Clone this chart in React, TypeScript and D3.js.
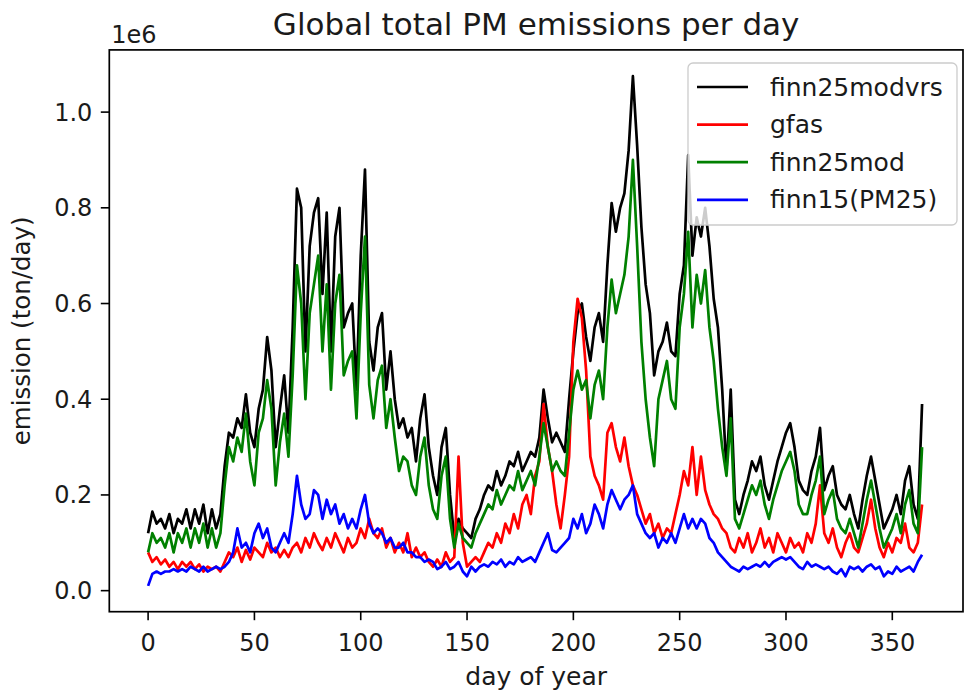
import React from 'react';
import * as d3 from 'd3';

// Values in units of 1e6 ton/day, sampled every DAY_STEP days starting at day 0
const DAY_STEP = 2;

const finn25modvrs = [
  0.12, 0.165, 0.14, 0.15, 0.13, 0.16, 0.12, 0.15, 0.14, 0.17, 0.13, 0.17, 0.14, 0.18, 0.12, 0.17, 0.13, 0.16,
  0.26, 0.33, 0.32, 0.36, 0.34, 0.41, 0.33, 0.30, 0.38, 0.42, 0.53, 0.46, 0.30, 0.38, 0.45, 0.33, 0.55, 0.84,
  0.80, 0.50, 0.72, 0.79, 0.82, 0.62, 0.79, 0.50, 0.74, 0.80, 0.55, 0.58, 0.60, 0.42, 0.70, 0.88, 0.52, 0.46,
  0.55, 0.58, 0.42, 0.50, 0.40, 0.34, 0.36, 0.32, 0.34, 0.27, 0.36, 0.41, 0.30, 0.24, 0.20, 0.30, 0.34, 0.20,
  0.11, 0.15, 0.13, 0.12, 0.11, 0.15, 0.17, 0.20, 0.22, 0.21, 0.25, 0.22, 0.24, 0.27, 0.26, 0.29, 0.25, 0.27,
  0.29, 0.28, 0.32, 0.42, 0.36, 0.31, 0.33, 0.31, 0.29, 0.40, 0.50, 0.58, 0.60, 0.53, 0.48, 0.55, 0.58, 0.52,
  0.68, 0.81, 0.75, 0.80, 0.83, 0.92, 1.075, 0.93, 0.76, 0.64, 0.58, 0.45, 0.50, 0.52, 0.56, 0.50, 0.49, 0.62,
  0.68, 0.91, 0.70, 0.78, 0.74, 0.80, 0.72, 0.61, 0.55, 0.42, 0.25, 0.42, 0.19, 0.16, 0.20, 0.23, 0.27, 0.25,
  0.28, 0.22, 0.19, 0.23, 0.27, 0.30, 0.33, 0.35, 0.30, 0.23, 0.21, 0.20, 0.25, 0.28, 0.34, 0.21, 0.24, 0.26,
  0.20, 0.18, 0.17, 0.20, 0.16, 0.13, 0.19, 0.24, 0.28, 0.23, 0.18, 0.13, 0.15, 0.17, 0.20, 0.16, 0.23, 0.26,
  0.18, 0.15, 0.39,
];

const gfas = [
  0.08, 0.06, 0.07, 0.055, 0.065, 0.05, 0.06, 0.045, 0.06, 0.05, 0.06, 0.045, 0.055, 0.04, 0.05, 0.045, 0.05, 0.04,
  0.06, 0.08, 0.07, 0.09, 0.06, 0.085, 0.065, 0.09, 0.08, 0.07, 0.10, 0.08, 0.09, 0.07, 0.085, 0.07, 0.09, 0.10,
  0.08, 0.11, 0.09, 0.12, 0.10, 0.085, 0.11, 0.09, 0.12, 0.10, 0.08, 0.11, 0.09, 0.10, 0.13, 0.11, 0.15, 0.12,
  0.11, 0.13, 0.09, 0.11, 0.08, 0.10, 0.08, 0.12, 0.07, 0.09, 0.07, 0.08, 0.06, 0.05, 0.065, 0.05, 0.08, 0.06,
  0.07, 0.28, 0.10, 0.05, 0.06, 0.07, 0.06, 0.08, 0.10, 0.09, 0.12, 0.10, 0.14, 0.12, 0.16, 0.13, 0.18, 0.20,
  0.16, 0.24, 0.27, 0.39, 0.30, 0.25, 0.18, 0.13, 0.20, 0.28, 0.52, 0.61, 0.57, 0.46, 0.28, 0.24, 0.22, 0.19,
  0.33, 0.35, 0.30, 0.27, 0.32, 0.26, 0.22, 0.20, 0.17, 0.14, 0.16, 0.12, 0.14, 0.11, 0.13, 0.12, 0.16, 0.20,
  0.25, 0.22, 0.30, 0.20, 0.28, 0.21, 0.18, 0.16, 0.15, 0.13, 0.12, 0.09, 0.08, 0.11, 0.09, 0.12, 0.08, 0.10,
  0.13, 0.09, 0.11, 0.08, 0.12, 0.10, 0.08, 0.11, 0.09, 0.10, 0.08, 0.12, 0.10, 0.14, 0.22, 0.12, 0.10, 0.13,
  0.09, 0.07, 0.10, 0.12, 0.09, 0.08, 0.11, 0.14, 0.19, 0.13, 0.09, 0.07, 0.10, 0.08, 0.11, 0.10, 0.14, 0.09,
  0.08, 0.10, 0.18,
];

const finn25mod = [
  0.08, 0.12, 0.10, 0.11, 0.09, 0.12, 0.08, 0.12, 0.10, 0.13, 0.09, 0.13, 0.10, 0.14, 0.09, 0.13, 0.09, 0.12,
  0.22, 0.30, 0.27, 0.32, 0.29, 0.37, 0.27, 0.22, 0.33, 0.36, 0.44, 0.38, 0.22, 0.31, 0.37, 0.28, 0.45, 0.68,
  0.60, 0.40, 0.58, 0.64, 0.70, 0.50, 0.64, 0.42, 0.60, 0.66, 0.45, 0.48, 0.50, 0.36, 0.58, 0.74, 0.43, 0.36,
  0.44, 0.47, 0.34, 0.40, 0.32, 0.25, 0.28, 0.27, 0.22, 0.20, 0.28, 0.32, 0.22, 0.17, 0.15, 0.24, 0.28, 0.15,
  0.09, 0.14, 0.11, 0.10, 0.09, 0.12, 0.14, 0.16, 0.18, 0.17, 0.21, 0.18, 0.20, 0.22, 0.21, 0.25, 0.21, 0.23,
  0.25, 0.22, 0.28, 0.35, 0.30, 0.25, 0.27, 0.25, 0.24, 0.33, 0.42, 0.46, 0.42, 0.44, 0.36, 0.43, 0.46, 0.40,
  0.55, 0.65, 0.58, 0.62, 0.66, 0.74, 0.90, 0.72, 0.52, 0.40, 0.32, 0.26, 0.40, 0.44, 0.48, 0.40, 0.38, 0.55,
  0.62, 0.75, 0.55, 0.66, 0.60, 0.67, 0.55, 0.48, 0.38, 0.30, 0.24, 0.36, 0.15, 0.13, 0.16, 0.19, 0.22, 0.20,
  0.23, 0.18, 0.15, 0.19, 0.22, 0.25, 0.27, 0.29, 0.25, 0.18, 0.16, 0.16, 0.20, 0.23, 0.28, 0.16, 0.19, 0.21,
  0.15, 0.13, 0.12, 0.15, 0.12, 0.09, 0.14, 0.19, 0.23, 0.18, 0.13, 0.09, 0.11, 0.13, 0.16, 0.12, 0.18, 0.21,
  0.14, 0.12, 0.30,
];

const finn15 = [
  0.01, 0.035, 0.04, 0.035, 0.04, 0.04, 0.045, 0.04, 0.045, 0.04, 0.05, 0.045, 0.04, 0.05, 0.04, 0.045, 0.05, 0.045,
  0.05, 0.06, 0.08, 0.13, 0.09, 0.10, 0.08, 0.12, 0.14, 0.11, 0.13, 0.09, 0.08, 0.10, 0.12, 0.10, 0.16, 0.24,
  0.18, 0.15, 0.16, 0.21, 0.20, 0.15, 0.19, 0.16, 0.18, 0.14, 0.16, 0.13, 0.15, 0.13, 0.17, 0.20, 0.14, 0.12,
  0.13, 0.12, 0.10, 0.11, 0.09, 0.09, 0.10, 0.08, 0.08, 0.07, 0.07, 0.06, 0.065, 0.06, 0.045, 0.05, 0.06, 0.045,
  0.05, 0.06, 0.04, 0.03, 0.05, 0.04, 0.05, 0.055, 0.05, 0.06, 0.055, 0.065, 0.05, 0.06, 0.055, 0.07, 0.06, 0.065,
  0.07, 0.06, 0.08, 0.10, 0.12, 0.085, 0.08, 0.09, 0.10, 0.11, 0.15, 0.13, 0.16, 0.12, 0.14, 0.18, 0.16, 0.13,
  0.18, 0.21, 0.19, 0.17, 0.19, 0.20, 0.22, 0.16, 0.14, 0.12, 0.11, 0.12, 0.09, 0.11, 0.10, 0.12, 0.10, 0.13,
  0.16, 0.13, 0.15, 0.13, 0.15, 0.14, 0.11, 0.10, 0.08, 0.07, 0.06, 0.05, 0.045, 0.04, 0.05, 0.045, 0.05, 0.055,
  0.05, 0.06, 0.05, 0.06, 0.065, 0.07, 0.065, 0.07, 0.06, 0.05, 0.045, 0.06, 0.05, 0.055, 0.05, 0.045, 0.05, 0.04,
  0.035, 0.045, 0.03, 0.05, 0.045, 0.05, 0.04, 0.05, 0.055, 0.045, 0.05, 0.03, 0.04, 0.035, 0.05, 0.04, 0.045, 0.05,
  0.04, 0.06, 0.075,
];

const seriesNames = ['finn25modvrs', 'gfas', 'finn25mod', 'finn15(PM25)'];
const seriesColors = ['#000000', '#ff0000', '#008000', '#0000ff'];
const seriesData = [finn25modvrs, gfas, finn25mod, finn15];

const xTicks = [0, 50, 100, 150, 200, 250, 300, 350];
const yTicks = [0.0, 0.2, 0.4, 0.6, 0.8, 1.0];

const W = 968;
const H = 691;
const FONT = 'DejaVu Sans, sans-serif';
const TXT = '#1a1a1a';

export default function App() {
  const x = d3.scaleLinear().domain([-18.25, 383.25]).range([109.3, 963]);
  const y = d3.scaleLinear().domain([-0.044, 1.13]).range([611.7, 49.9]);
  const [x0, x1] = x.range();
  const [yb, yt] = y.range();

  const line = (vals: number[]) =>
    d3
      .line<number>()
      .x((_, i) => x(i * DAY_STEP))
      .y((v) => y(v))(vals) as string;

  const legendX = 688;
  const legendY = 63;
  const legendW = 269;
  const legendH = 162;
  const rowH = 37.6;

  return (
    <svg
      width={W}
      height={H}
      style={{ position: 'absolute', left: 0, top: 0, background: '#fff' }}
      fontFamily={FONT}
    >
      <rect x={0} y={0} width={W} height={H} fill="#ffffff" />
      <defs>
        <clipPath id="plotclip">
          <rect x={x0} y={yt} width={x1 - x0} height={yb - yt} />
        </clipPath>
      </defs>

      {/* Lines */}
      <g clipPath="url(#plotclip)">
        {seriesData.map((vals, k) => (
          <path
            key={seriesNames[k]}
            d={line(vals)}
            fill="none"
            stroke={seriesColors[k]}
            strokeWidth={2.7}
            strokeLinejoin="round"
          />
        ))}
      </g>

      {/* Spines */}
      <rect x={x0} y={yt} width={x1 - x0} height={yb - yt} fill="none" stroke="#000" strokeWidth={1.7} />

      {/* X ticks */}
      {xTicks.map((t) => (
        <g key={'x' + t}>
          <line x1={x(t)} x2={x(t)} y1={yb} y2={yb + 8.5} stroke="#000" strokeWidth={1.6} />
          <text x={x(t)} y={yb + 39} textAnchor="middle" fontSize={24} fill={TXT}>
            {t}
          </text>
        </g>
      ))}

      {/* Y ticks */}
      {yTicks.map((t) => (
        <g key={'y' + t}>
          <line x1={x0 - 8.5} x2={x0} y1={y(t)} y2={y(t)} stroke="#000" strokeWidth={1.6} />
          <text x={x0 - 17} y={y(t) + 8.5} textAnchor="end" fontSize={24} fill={TXT}>
            {t.toFixed(1)}
          </text>
        </g>
      ))}

      {/* Offset text */}
      <text x={x0 + 2} y={43} fontSize={24} fill={TXT}>
        1e6
      </text>

      {/* Title */}
      <text x={(x0 + x1) / 2} y={35} textAnchor="middle" fontSize={31} fill={TXT}>
        Global total PM emissions per day
      </text>

      {/* Axis labels */}
      <text x={(x0 + x1) / 2} y={685} textAnchor="middle" fontSize={25} fill={TXT}>
        day of year
      </text>
      <text
        transform={`translate(30, ${(yb + yt) / 2}) rotate(-90)`}
        textAnchor="middle"
        fontSize={24.5}
        fill={TXT}
      >
        emission (ton/day)
      </text>

      {/* Legend */}
      <g>
        <rect
          x={legendX}
          y={legendY}
          width={legendW}
          height={legendH}
          rx={5}
          fill="#ffffff"
          fillOpacity={0.8}
          stroke="#cccccc"
          strokeWidth={1.3}
        />
        {seriesNames.map((name, k) => {
          const cy = legendY + 24 + k * rowH;
          return (
            <g key={'lg' + name}>
              <line x1={legendX + 9} x2={legendX + 60} y1={cy} y2={cy} stroke={seriesColors[k]} strokeWidth={2.7} />
              <text x={legendX + 82} y={cy + 8.5} fontSize={25} fill={TXT}>
                {name}
              </text>
            </g>
          );
        })}
      </g>
    </svg>
  );
}
